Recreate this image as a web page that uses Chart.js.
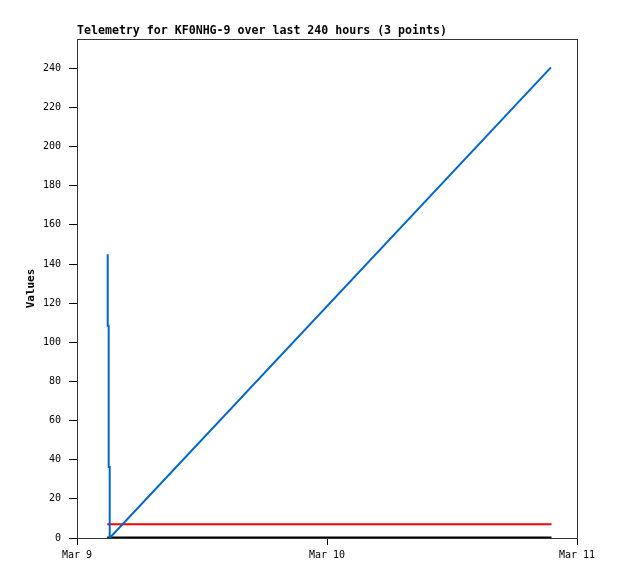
<!DOCTYPE html>
<html>
<head>
<meta charset="utf-8">
<script src="https://cdn.jsdelivr.net/npm/chart.js@4/dist/chart.umd.min.js"></script>
<style>
html,body{margin:0;padding:0;background:#fff;}
canvas{display:block;}
</style>
</head>
<body>
<canvas id="c" width="618" height="579"></canvas>
<script>
// Hours since Mar 9 00:00
const titleText = 'Telemetry for KF0NHG-9 over last 240 hours (3 points)';
const yAxisTitle = 'Values';
const xTickLabels = ['Mar 9', 'Mar 10', 'Mar 11'];
const xTickHours = [0, 24, 48];

const blueHours  = [2.95, 2.95, 3.04, 3.04, 3.14, 3.14, 45.5];
const blueValues = [145, 108.5, 108.5, 36.3, 36.3, 0, 240.5];

const redHours   = [2.9, 45.55];
const redValues  = [7, 7];

const blackHours  = [2.9, 45.55];
const blackValues = [0, 0];

function pts(xs, ys){ return xs.map((x,i)=>({x:x, y:ys[i]})); }

const MONO = '"DejaVu Sans Mono", "Liberation Mono", monospace';

const framePlugin = {
  id: 'frame',
  afterDatasetsDraw(chart){
    const {ctx, chartArea:a} = chart;
    ctx.save();
    ctx.strokeStyle = '#333';
    ctx.lineWidth = 1;
    ctx.strokeRect(Math.round(a.left)+0.5, Math.round(a.top)+0.5, Math.round(a.right-a.left), Math.round(a.bottom-a.top));
    ctx.restore();
  },
  afterDraw(chart){
    const {ctx, chartArea:a} = chart;
    ctx.save();
    ctx.fillStyle = '#000';
    ctx.font = 'bold 11.6px ' + MONO;
    ctx.textAlign = 'left';
    ctx.textBaseline = 'alphabetic';
    ctx.fillText(titleText, a.left, 34);
    ctx.restore();
  }
};

new Chart(document.getElementById('c'), {
  type: 'line',
  data: {
    datasets: [
      { data: pts(blueHours, blueValues), borderColor: '#0066cc', borderWidth: 2, pointRadius: 0, tension: 0, fill: false },
      { data: pts(redHours, redValues), borderColor: '#ff0000', borderWidth: 2, pointRadius: 0, tension: 0, fill: false },
      { data: pts(blackHours, blackValues), borderColor: '#000000', borderWidth: 3, pointRadius: 0, tension: 0, fill: false }
    ]
  },
  options: {
    responsive: false,
    animation: false,
    events: [],
    layout: { padding: { top: 39, right: 41, left: 0, bottom: 0 } },
    plugins: { legend: { display: false }, title: { display: false }, tooltip: { enabled: false } },
    scales: {
      x: {
        type: 'linear',
        min: 0, max: 48,
        afterFit(s){ s.height = 41; },
        afterBuildTicks(s){ s.ticks = xTickHours.map(v=>({value:v})); },
        ticks: {
          color: '#000',
          font: { family: MONO, size: 10 },
          padding: 4,
          maxRotation: 0,
          autoSkip: false,
          callback: (v)=>{ const i = xTickHours.indexOf(v); return i>=0 ? xTickLabels[i] : ''; }
        },
        grid: { drawOnChartArea: false, drawTicks: true, tickLength: 7, color: '#000' },
        border: { display: true, color: '#333' }
      },
      y: {
        type: 'linear',
        min: 0, max: 255,
        afterFit(s){ s.width = 77; },
        ticks: {
          stepSize: 20,
          includeBounds: false,
          color: '#000',
          font: { family: MONO, size: 10 },
          padding: 8
        },
        grid: { drawOnChartArea: false, drawTicks: true, tickLength: 8, color: '#000' },
        border: { display: true, color: '#333' },
        title: {
          display: true,
          text: yAxisTitle,
          color: '#000',
          font: { family: MONO, size: 11, weight: 'bold' },
          padding: { top: 24.5, bottom: 0 }
        }
      }
    }
  },
  plugins: [framePlugin]
});
</script>
</body>
</html>
